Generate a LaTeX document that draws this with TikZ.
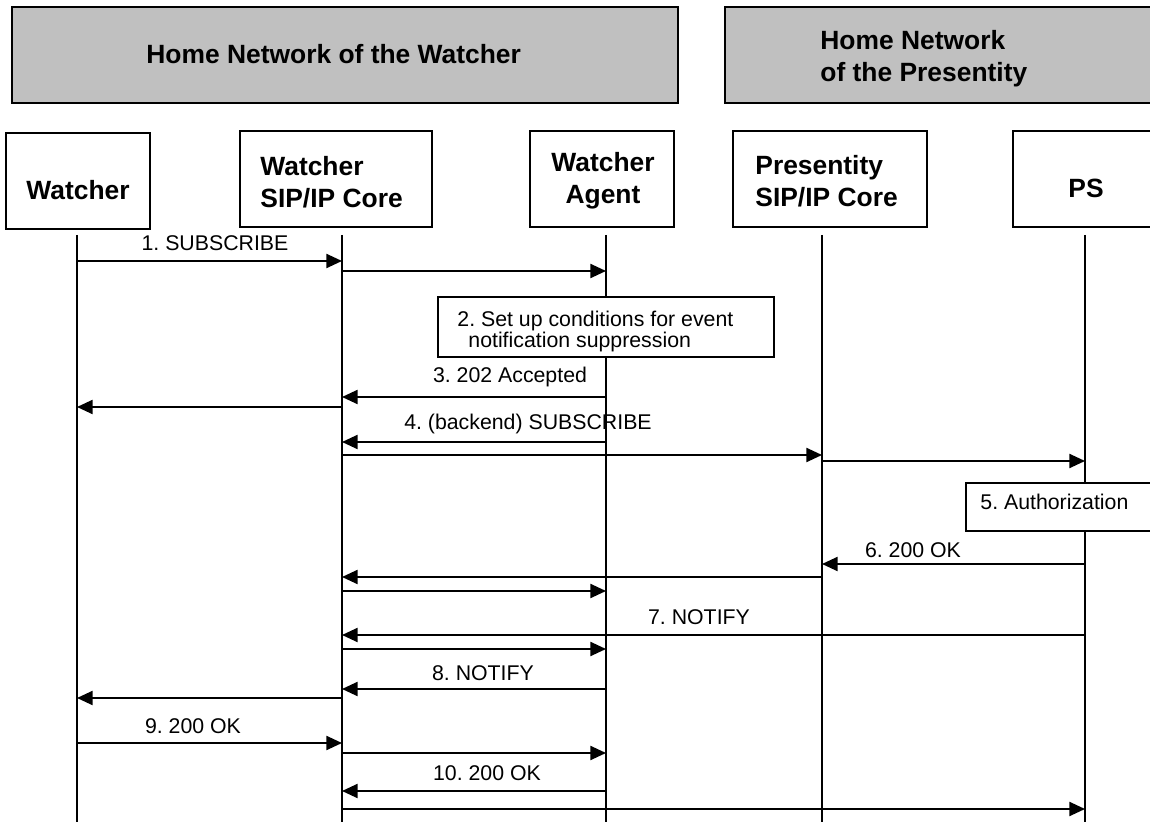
\documentclass[tikz,border=0pt]{standalone}
\usepackage{fontspec}
\setmainfont{Liberation Sans}
\usetikzlibrary{arrows.meta}
\definecolor{hdrgray}{RGB}{192,192,192}
\frenchspacing
\begin{document}
\begin{tikzpicture}[x=0.5pt,y=-0.5pt,
  box/.style={draw=black, line width=1pt, fill=white, inner sep=0pt, outer sep=0pt},
  hdr/.style={draw=black, line width=1pt, fill=hdrgray, inner sep=0pt, outer sep=0pt},
  btext/.style={font=\fontsize{13.2pt}{16pt}\bfseries\selectfont, inner sep=0pt},
  mtext/.style={font=\fontsize{10.65pt}{10.5pt}\selectfont, inner sep=0pt},
  life/.style={line width=1pt},
  msg/.style={line width=1pt, -{Triangle[length=7.8pt,width=7pt]}},
]
\useasboundingbox (0,0) rectangle (1150,822);
\clip (0,0) rectangle (1150,822);

% header boxes
\node[hdr, minimum width=333.25pt, minimum height=48pt] (hw) at (344.75,55) {};
\node[btext, anchor=west] (hwt) at (146,54) {Home Network of the Watcher};
\node[hdr, minimum width=220pt, minimum height=48pt] (hp) at (945,55) {};
\node[btext, anchor=west, align=left] (hpt) at (820,59) {Home Network\\of the Presentity};

% participant boxes
\node[box, minimum width=72pt, minimum height=48pt] (w) at (78,181) {};
\node[btext] (wt) at (78,190) {Watcher};
\node[box, minimum width=96pt, minimum height=48pt] (c) at (336,179) {};
\node[btext, anchor=west, align=left] (ct) at (260,182.5) {Watcher\\SIP/IP Core};
\node[box, minimum width=72pt, minimum height=48pt] (a) at (602,179) {};
\node[btext, align=center] (at) at (603,181) {Watcher\\Agent};
\node[box, minimum width=97pt, minimum height=48pt] (p) at (830,179) {};
\node[btext, anchor=west, align=left] (pt) at (755,181) {Presentity\\SIP/IP Core};
\node[box, minimum width=76pt, minimum height=48pt] (s) at (1089,179) {};
\node[btext] (st) at (1086,188) {PS};

% lifelines
\coordinate (Lw) at (77,235);
\coordinate (Lc) at (342,235);
\coordinate (La) at (606,235);
\coordinate (Lp) at (822,235);
\coordinate (Ls) at (1085,235);
\foreach \L in {Lw,Lc,La,Lp,Ls} \draw[life] (\L) -- (\L |- 0,825);

% action boxes
\node[box, minimum width=168pt, minimum height=30pt] (b2) at (606,327) {};
\node[mtext, anchor=west, align=left] (b2t) at (457,331.5) {2. Set up conditions for event\\\hspace*{5.5pt}notification suppression};
\node[box, minimum width=99.5pt, minimum height=24pt] (b5) at (1065.5,507) {};
\node[mtext, anchor=west] (b5t) at (980,502) {5. Authorization};

% messages
\node[mtext] (m1) at (215,243) {1. SUBSCRIBE};
\draw[msg] (Lw |- 0,261) -- (Lc |- 0,261);
\draw[msg] (Lc |- 0,271) -- (La |- 0,271);

\node[mtext] (m3) at (510,377) {3. 202 Accepted};
\draw[msg] (La |- 0,397) -- (Lc |- 0,397);
\draw[msg] (Lc |- 0,407) -- (Lw |- 0,407);

\node[mtext] (m4) at (528,424) {4. (backend) SUBSCRIBE};
\draw[msg] (La |- 0,442) -- (Lc |- 0,442);
\draw[msg] (Lc |- 0,455) -- (Lp |- 0,455);
\draw[msg] (Lp |- 0,461) -- (Ls |- 0,461);

\node[mtext] (m6) at (913,550) {6. 200 OK};
\draw[msg] (Ls |- 0,564) -- (Lp |- 0,564);
\draw[msg] (Lp |- 0,577) -- (Lc |- 0,577);
\draw[msg] (Lc |- 0,591) -- (La |- 0,591);

\node[mtext] (m7) at (699,617) {7. NOTIFY};
\draw[msg] (Ls |- 0,635) -- (Lc |- 0,635);
\draw[msg] (Lc |- 0,649) -- (La |- 0,649);

\node[mtext] (m8) at (483,673) {8. NOTIFY};
\draw[msg] (La |- 0,689) -- (Lc |- 0,689);
\draw[msg] (Lc |- 0,698) -- (Lw |- 0,698);

\node[mtext] (m9) at (193,726) {9. 200 OK};
\draw[msg] (Lw |- 0,743) -- (Lc |- 0,743);
\draw[msg] (Lc |- 0,753) -- (La |- 0,753);

\node[mtext] (m10) at (487,773) {10. 200 OK};
\draw[msg] (La |- 0,791) -- (Lc |- 0,791);
\draw[msg] (Lc |- 0,809) -- (Ls |- 0,809);
\end{tikzpicture}
\end{document}
